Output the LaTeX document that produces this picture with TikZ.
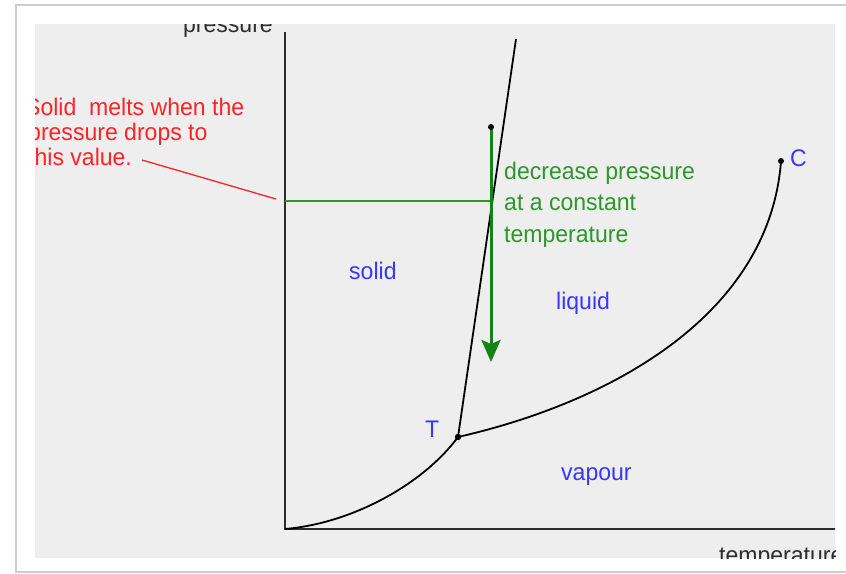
\documentclass[tikz,border=0pt]{standalone}
\usepackage{fontspec}
\setmainfont{Liberation Sans}[FakeStretch=0.96]
\usetikzlibrary{arrows.meta}
\definecolor{bgray}{RGB}{238,238,238}
\definecolor{frameg}{RGB}{205,205,205}
\definecolor{axisc}{RGB}{45,45,45}
\definecolor{lblue}{RGB}{55,55,250}
\definecolor{lgreen}{RGB}{45,150,45}
\definecolor{agreen}{RGB}{20,130,20}
\definecolor{lred}{RGB}{255,35,35}
\begin{document}
\begin{tikzpicture}[x=1pt,y=-1pt,
  lbl/.style={anchor=base west, inner sep=0pt, font=\fontsize{24}{26}\selectfont},
  bluelbl/.style={lbl, text=lblue},
  greenlbl/.style={lbl, text=lgreen},
  redlbl/.style={lbl, text=lred},
  axislbl/.style={lbl, text=axisc},
  axisline/.style={draw=axisc, line width=2pt},
  phaseline/.style={draw=black, line width=1.8pt},
  dotmark/.style={fill=black}]
\useasboundingbox (0,0) rectangle (846,573);
% outer frame
\fill[white] (0,0) rectangle (846,573);
\draw[frameg, line width=2pt] (900,5) -- (16,5) -- (16,572) -- (900,572);
\begin{scope}
\clip (35,24) rectangle (835,558);
\fill[bgray] (35,24) rectangle (835,558);
% coordinates
\coordinate (O) at (285,529);
\coordinate (ytop) at (285,32);
\coordinate (xend) at (850,529);
\coordinate (T) at (458,437);
\coordinate (C) at (781,161);
\coordinate (SL) at (516,39);
\coordinate (A) at (491,127);
\coordinate (Ab) at (491,362);
\coordinate (Ha) at (285,201);
\coordinate (Hb) at (491,201);
\coordinate (Ra) at (142,160);
\coordinate (Rb) at (276,199);
% axes
\draw[axisline] (ytop) -- (O) -- (xend);
\node[axislbl, anchor=base east] (plab) at (273,32) {pressure};
\node[axislbl] (tlab) at (719,563) {temperature};
% phase boundaries
\draw[phaseline] (O) .. controls (355,523) and (425,482) .. (T);
\draw[phaseline] (T) .. controls (620,400) and (770,310) .. (C);
\draw[phaseline] (T) -- (SL);
% green construction
\draw[lgreen, line width=1.5pt] (Ha) -- (Hb);
\draw[agreen, line width=3pt, -{Stealth[length=22pt, width=19pt, inset=4pt]}] (A) -- (Ab);
% red annotation
\node[redlbl] (r1) at (25,115) {Solid~ melts when the};
\node[redlbl] (r2) at (28,140) {pressure drops to};
\node[redlbl] (r3) at (28,165) {this value.};
\draw[lred, line width=1.3pt] (Ra) -- (Rb);
% green text
\node[greenlbl] (g1) at (504,179) {decrease pressure};
\node[greenlbl] (g2) at (504,210) {at a constant};
\node[greenlbl] (g3) at (504,242) {temperature};
% dots
\fill[dotmark] (A) circle (3pt);
\fill[dotmark] (T) circle (3.2pt);
\fill[dotmark] (C) circle (3pt);
% labels
\node[bluelbl] (solid) at (349,279) {solid};
\node[bluelbl] (liquid) at (556,309) {liquid};
\node[bluelbl] (vapour) at (561,480) {vapour};
\node[bluelbl] (Tl) at (425,437) {T};
\node[bluelbl] (Cl) at (790,166) {C};
\end{scope}
\end{tikzpicture}
\end{document}
